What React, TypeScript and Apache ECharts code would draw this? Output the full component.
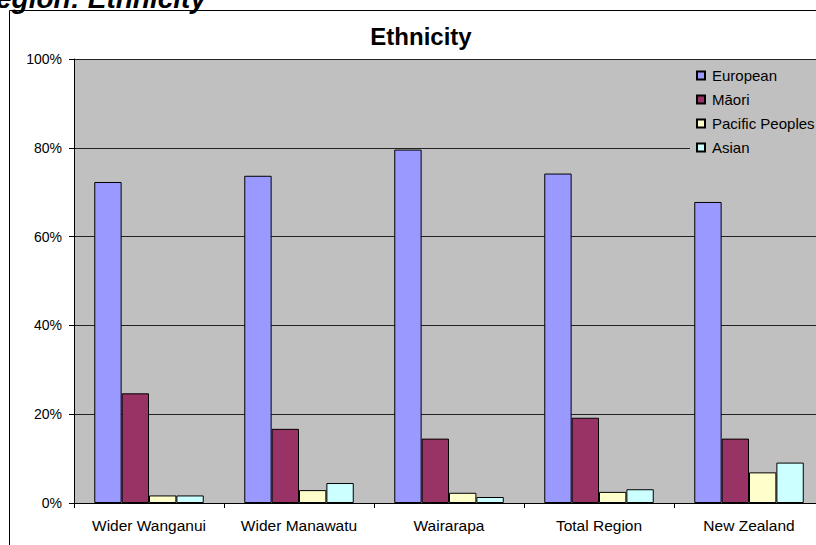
import React, { useEffect, useRef } from "react";
import * as echarts from "echarts";

const categories = ["Wider Wanganui", "Wider Manawatu", "Wairarapa", "Total Region", "New Zealand"];
const seriesNames = ["European", "Māori", "Pacific Peoples", "Asian"];
const european = [72.3, 73.7, 79.6, 74.2, 67.8];
const maori = [24.7, 16.7, 14.5, 19.2, 14.5];
const pacific = [1.7, 2.9, 2.3, 2.5, 6.9];
const asian = [1.7, 4.5, 1.35, 3.1, 9.1];
const colors = ["#9999FF", "#993366", "#FFFFCC", "#CCFFFF"];
const yTicks = [0, 20, 40, 60, 80, 100];

const FONT = "'Liberation Sans', Arial, sans-serif";

export default function App() {
  const ref = useRef<HTMLDivElement>(null);
  useEffect(() => {
    if (!ref.current) return;
    const chart = echarts.init(ref.current, null, { renderer: "svg" });
    const values = [european, maori, pacific, asian];
    chart.setOption({
      animation: false,
      backgroundColor: "#FFFFFF",
      textStyle: { fontFamily: FONT, color: "#000" },
      graphic: [
        {
          type: "rect",
          shape: { x: 9.5, y: 10.5, width: 1000, height: 700 },
          style: { fill: "none", stroke: "#000", lineWidth: 1 },
          z: 10,
          silent: true,
        },
        {
          type: "text",
          style: {
            text: "Region: Ethnicity",
            x: 206,
            y: 12,
            align: "right",
            verticalAlign: "bottom",
            font: `italic bold 28px ${FONT}`,
            fill: "#000",
          },
          silent: true,
        },
        {
          type: "text",
          style: {
            text: "Ethnicity",
            x: 421,
            y: 36,
            align: "center",
            verticalAlign: "middle",
            font: `bold 24px ${FONT}`,
            fill: "#000",
          },
          silent: true,
        },
      ],
      legend: {
        show: true,
        orient: "vertical",
        left: 690,
        top: 62,
        padding: [6, 80, 14, 6],
        backgroundColor: "#C0C0C0",
        itemWidth: 8,
        itemHeight: 8,
        itemGap: 9,
        icon: "rect",
        selectedMode: false,
        textStyle: { fontSize: 15, color: "#000", fontFamily: FONT, padding: [0, 0, 0, 2] },
        data: seriesNames,
      },
      grid: {
        left: 74,
        top: 59,
        width: 750,
        height: 444,
        show: true,
        backgroundColor: "#C0C0C0",
        borderWidth: 0,
        containLabel: false,
      },
      xAxis: {
        type: "category",
        data: categories,
        axisLine: { show: true, lineStyle: { color: "#000", width: 1 } },
        axisTick: { show: true, length: 5, interval: 0, lineStyle: { color: "#000" } },
        axisLabel: { fontSize: 15.5, color: "#000", fontFamily: FONT, margin: 14, interval: 0 },
        splitLine: { show: false },
      },
      yAxis: {
        type: "value",
        min: yTicks[0],
        max: yTicks[yTicks.length - 1],
        interval: 20,
        axisLine: { show: true, lineStyle: { color: "#000", width: 1 } },
        axisTick: { show: true, length: 5, lineStyle: { color: "#000" } },
        axisLabel: { fontSize: 14, color: "#000", fontFamily: FONT, margin: 12, formatter: "{value}%" },
        splitLine: { show: true, lineStyle: { color: "#222", width: 1 } },
      },
      series: seriesNames.map((name, i) => ({
        name,
        type: "bar",
        data: values[i],
        barGap: "0%",
        barCategoryGap: "27%",
        itemStyle: { color: colors[i], borderColor: "#000", borderWidth: 1 },
      })),
    });
    return () => chart.dispose();
  }, []);
  return (
    <div style={{ position: "fixed", left: 0, top: 0, width: 816, height: 545, overflow: "hidden", background: "#fff" }}>
      <div ref={ref} style={{ position: "absolute", left: 0, top: 0, width: 900, height: 600 }} />
    </div>
  );
}
